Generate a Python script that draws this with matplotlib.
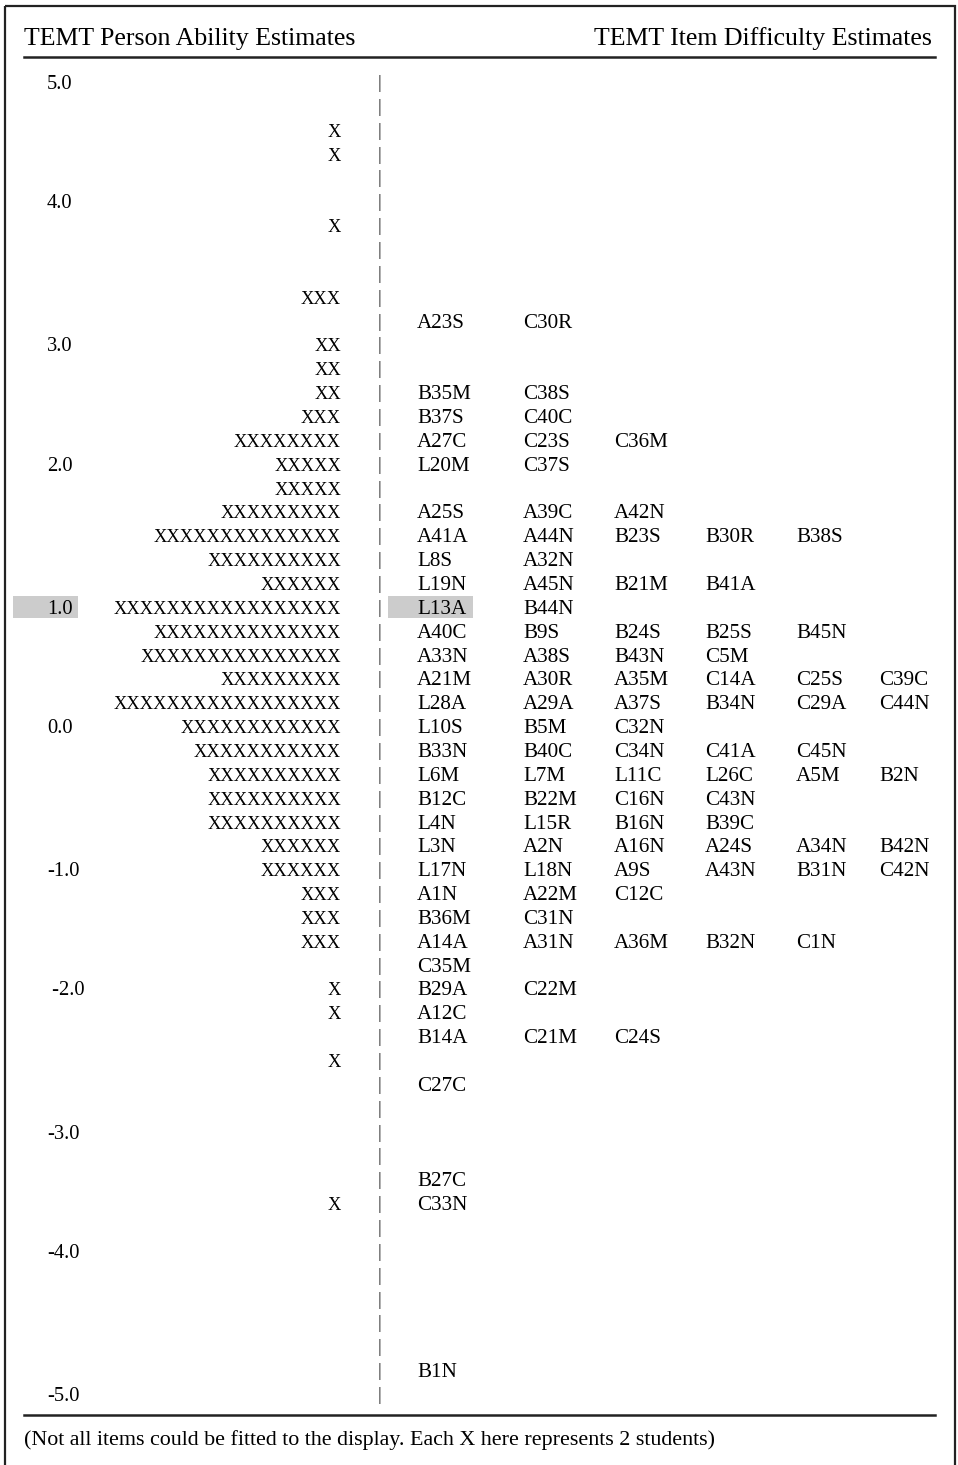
import matplotlib
matplotlib.use("Agg")
import matplotlib.pyplot as plt
from matplotlib.patches import Rectangle

plt.rcParams['font.family'] = ['Liberation Serif', 'DejaVu Serif']

# --- data -------------------------------------------------------------
left_title = "TEMT Person Ability Estimates"
right_title = "TEMT Item Difficulty Estimates"
footnote = "(Not all items could be fitted to the display. Each X here represents 2 students)"

# logit scale labels and the display row they sit on
scale_labels = ["5.0", "4.0", "3.0", "2.0", "1.0", "0.0", "-1.0", " -2.0", "-3.0", "-4.0", "-5.0"]
scale_rows = [0, 5, 11, 16, 22, 27, 33, 38, 44, 49, 55]

# number of X per display row (each X = 2 students), top row = 5.0
person_x = [0, 0, 1, 1, 0, 0, 1, 0, 0, 3,
            0, 2, 2, 2, 3, 8, 5, 5, 9, 14,
            10, 6, 17, 14, 15, 9, 17, 12, 11, 10,
            10, 10, 6, 6, 3, 3, 3, 0, 1, 1,
            0, 1, 0, 0, 0, 0, 0, 1, 0, 0,
            0, 0, 0, 0, 0, 0]

item_rows = {
    10: ["A23S", "C30R"],
    13: ["B35M", "C38S"],
    14: ["B37S", "C40C"],
    15: ["A27C", "C23S", "C36M"],
    16: ["L20M", "C37S"],
    18: ["A25S", "A39C", "A42N"],
    19: ["A41A", "A44N", "B23S", "B30R", "B38S"],
    20: ["L8S", "A32N"],
    21: ["L19N", "A45N", "B21M", "B41A"],
    22: ["L13A", "B44N"],
    23: ["A40C", "B9S", "B24S", "B25S", "B45N"],
    24: ["A33N", "A38S", "B43N", "C5M"],
    25: ["A21M", "A30R", "A35M", "C14A", "C25S", "C39C"],
    26: ["L28A", "A29A", "A37S", "B34N", "C29A", "C44N"],
    27: ["L10S", "B5M", "C32N"],
    28: ["B33N", "B40C", "C34N", "C41A", "C45N"],
    29: ["L6M", "L7M", "L11C", "L26C", "A5M", "B2N"],
    30: ["B12C", "B22M", "C16N", "C43N"],
    31: ["L4N", "L15R", "B16N", "B39C"],
    32: ["L3N", "A2N", "A16N", "A24S", "A34N", "B42N"],
    33: ["L17N", "L18N", "A9S", "A43N", "B31N", "C42N"],
    34: ["A1N", "A22M", "C12C"],
    35: ["B36M", "C31N"],
    36: ["A14A", "A31N", "A36M", "B32N", "C1N"],
    37: ["C35M"],
    38: ["B29A", "C22M"],
    39: ["A12C"],
    40: ["B14A", "C21M", "C24S"],
    42: ["C27C"],
    46: ["B27C"],
    47: ["C33N"],
    54: ["B1N"],
}
highlight_row = 22

# --- layout -----------------------------------------------------------
W, H = 958, 1465
row0, row_h = 84.5, 23.855
col_x = [417, 523, 614, 705, 796, 879]
fs_item = 15.2
fs_x = 13.3
fs_scale = 14.8

fig = plt.figure(figsize=(W / 100, H / 100), dpi=100)
ax = fig.add_axes([0, 0, 1, 1])
ax.set_xlim(0, W)
ax.set_ylim(H, 0)
ax.axis("off")

def ry(r):
    return row0 + r * row_h

# outer frame (bottom edge runs off the page)
ax.add_patch(Rectangle((5, 6), 950, 1480, fill=False, lw=1.6, ec="#222222"))

ax.text(24, 39, left_title, fontsize=18.6, ha="left", va="center")
ax.text(932, 39, right_title, fontsize=18.6, ha="right", va="center")
ax.plot([24, 935], [57, 57], color="#222222", lw=1.8)
ax.plot([24, 935], [1415, 1415], color="#222222", lw=1.8)
ax.text(24, 1440, footnote, fontsize=15.8, ha="left", va="center")

# highlighted row
ax.add_patch(Rectangle((13, ry(highlight_row) - 13.5), 65, 22, color="#cccccc", lw=0))
ax.add_patch(Rectangle((388, ry(highlight_row) - 13.5), 85, 22, color="#cccccc", lw=0))

for lab, r in zip(scale_labels, scale_rows):
    ax.text(47, ry(r), lab, fontsize=fs_scale, ha="left", va="center")

for r, n in enumerate(person_x):
    if n:
        ax.text(341, ry(r), "X" * n, fontsize=fs_x, ha="right", va="center")
    ax.text(380, ry(r) - 1, "|", fontsize=fs_item - 1.5, ha="center", va="center", color="#333333")

for r, items in item_rows.items():
    for x, it in zip(col_x, items):
        ax.text(x, ry(r), it, fontsize=fs_item, ha="left", va="center")

fig.savefig("out.png", dpi=100)
